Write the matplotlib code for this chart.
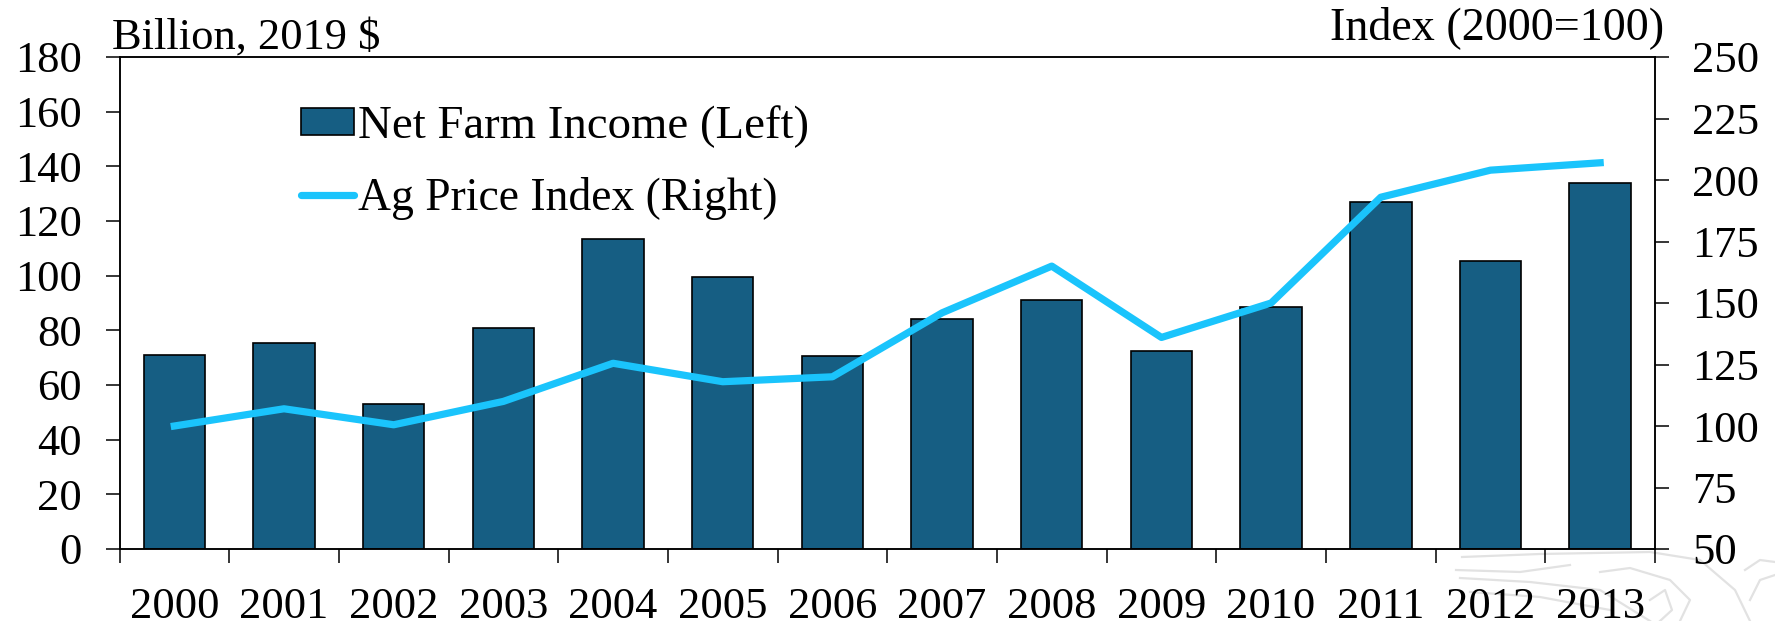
import matplotlib
matplotlib.use("Agg")
import matplotlib.pyplot as plt
from matplotlib.lines import Line2D
import numpy as np

years = ["2000", "2001", "2002", "2003", "2004", "2005", "2006", "2007", "2008", "2009", "2010", "2011", "2012", "2013"]
income = [71, 75.5, 53, 81, 113.5, 99.5, 70.5, 84, 91, 72.5, 88.5, 127, 105.5, 134]
price = [100, 107, 100.5, 110, 125.5, 118, 120, 146, 165, 136, 150, 193, 204, 207]

# faint scrollwork watermark in the bottom right corner, in figure pixels
watermark = [
    [(1462, 557), (1540, 554), (1650, 552), (1700, 560), (1735, 590), (1750, 621)],
    [(1456, 570), (1520, 572), (1570, 565)],
    [(1460, 578), (1530, 582), (1600, 590), (1650, 621)],
    [(1470, 592), (1540, 597), (1610, 610)],
    [(1600, 572), (1630, 568), (1670, 580), (1690, 600), (1680, 621)],
    [(1650, 600), (1665, 590), (1672, 610), (1660, 621)],
    [(1745, 570), (1760, 560), (1775, 562)],
    [(1750, 600), (1760, 580), (1775, 575)],
]

plt.rcParams['font.family'] = ['Liberation Serif', 'DejaVu Serif']
W, H = 1775, 621
fig = plt.figure(figsize=(W/100, H/100), dpi=100)

for pts in watermark:
    px, py = zip(*pts)
    fig.add_artist(Line2D([p/W for p in px], [1-p/H for p in py], color="#E2E2E2", linewidth=1.6, zorder=0))

ax = fig.add_axes([119.5/W, 1-549/H, (1655-119.5)/W, (549-57)/H])
ax.patch.set_alpha(0)
x = np.arange(len(years))
ax.bar(x, income, width=0.56, color="#165E83", edgecolor="black", linewidth=1.2, label="Net Farm Income (Left)")
ax.set_xlim(-0.5, 13.5)
ax.set_ylim(0, 180)
ax.set_yticks(range(0, 181, 20))
ax.set_xticks(np.arange(-0.5, 14, 1))
ax.set_xticklabels([])
ax.tick_params(axis="x", length=10, direction="out", width=1.1)
ax.tick_params(axis="y", length=10, direction="out", width=1.1, labelsize=32, pad=17)
for i, y in enumerate(years):
    ax.text(i, -0.078, y, transform=ax.get_xaxis_transform(), ha="center", va="top", fontsize=32)

ax2 = ax.twinx()
ax2.plot(x, price, color="#1AC4FC", linewidth=5.2, label="Ag Price Index (Right)")
ax2.set_ylim(50, 250)
ax2.set_yticks(range(50, 251, 25))
ax2.tick_params(axis="y", length=10, direction="out", width=1.1, labelsize=32, pad=17)

for a in (ax, ax2):
    for s in a.spines.values():
        s.set_linewidth(1.1)

fig.text(112/W, 1-38/H, "Billion, 2019 $", fontsize=32, va="center", ha="left")
fig.text(1664/W, 1-28/H, "Index (2000=100)", fontsize=33.2, va="center", ha="right")

h1, l1 = ax.get_legend_handles_labels()
h2, l2 = ax2.get_legend_handles_labels()
leg = ax.legend(h1+h2, l1+l2, loc="upper left", bbox_to_anchor=(0.1185, 0.9015), frameon=False, fontsize=33.7,
                handlelength=1.13, handletextpad=0.07, labelspacing=0.62, borderpad=0, borderaxespad=0, handleheight=0.53)
leg.get_lines()[0].set_solid_capstyle("round")
leg.get_texts()[1].set_fontsize(32.9)
fig.savefig("out.png", dpi=100)
